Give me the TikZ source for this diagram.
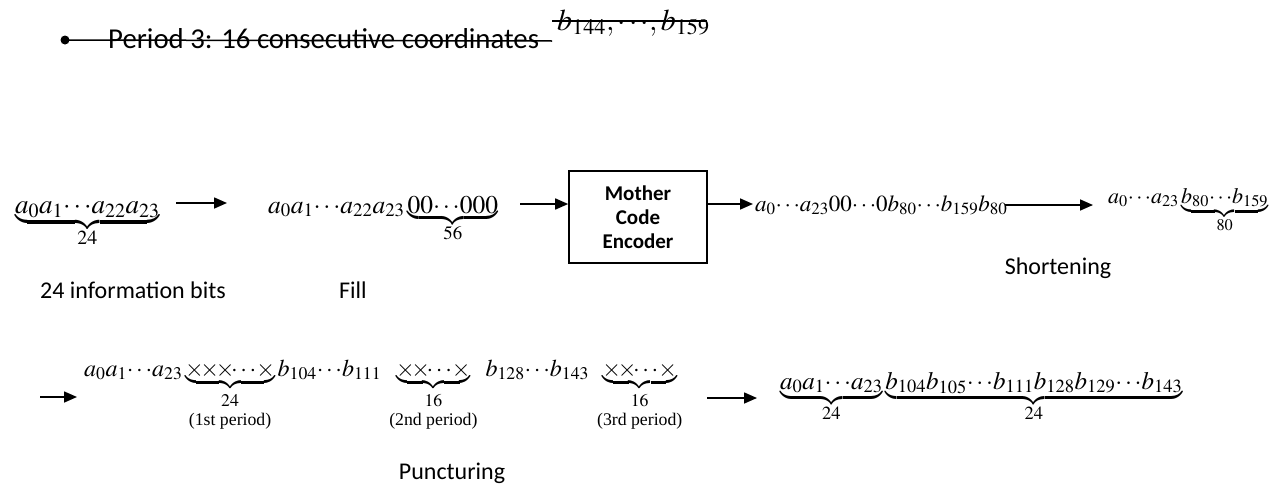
\documentclass[tikz,border=0pt]{standalone}
\usepackage{amsmath}
\usepackage{mathptmx}
\usepackage[no-math]{fontspec}
\setmainfont{Liberation Serif}
\setsansfont{Carlito}
\usetikzlibrary{arrows.meta}
\tikzset{
  arr/.style={line width=1.6pt,-{Triangle[length=13pt,width=11pt]}},
  expr/.style={anchor=base west,inner sep=0pt},
  lab/.style={anchor=base,inner sep=0pt,font=\sffamily\fontsize{24}{28}\selectfont},
  strike/.style={line width=1.5pt},
  encbox/.style={draw,line width=1.6pt,minimum width=138pt,minimum height=92pt,inner sep=0pt,align=center,
    font=\sffamily\bfseries\fontsize{21}{24}\selectfont},
}
\newcommand{\xx}{\mathord{\times}\mkern-2.5mu}
\newcommand{\xl}{\mathord{\times}}
\newcommand{\dd}{{\cdots}}
\newcommand{\perlab}[2]{\substack{\rule{0pt}{16pt}#1\\[4pt]\text{#2}}}
\begin{document}
\begin{tikzpicture}[x=1pt,y=-1pt]
\useasboundingbox (0,0) rectangle (1277,490);
% heading
\node[circle,fill,inner sep=0pt,minimum size=9pt] (bul) at (65,40) {};
\node[expr,font=\sffamily\fontsize{28.8}{32}\selectfont] (ht) at (108,48) {Period 3: 16 consecutive coordinates};
\node[expr,font=\fontsize{30}{34}\selectfont] (hm) at (557,30) {$b_{144},\dd,b_{159}$};
\coordinate (s1) at (552,41);
\coordinate (s2) at (552,21);
\coordinate (s3) at (707,21);
\draw[strike] (bul.center) -- (s1);
\draw[strike] (s2) -- (s3);
% row 1
\node[expr,font=\fontsize{27}{31}\selectfont] (e1) at (15,213) {$\underbrace{a_0a_1\dd a_{22}a_{23}}_{24}$};
\node[expr,font=\fontsize{25.5}{30}\selectfont] (e2) at (268,213) {$a_0a_1\dd a_{22}a_{23}\underbrace{00\dd000}_{56}$};
\node[encbox] (box) at (638,217) {Mother\\Code\\Encoder};
\node[expr,font=\fontsize{23}{27}\selectfont] (e3) at (755,211) {$a_0\dd a_{23}00\dd0b_{80}\dd b_{159}b_{80}$};
\node[expr,font=\fontsize{22}{26}\selectfont] (e4) at (1108,203) {$a_0\dd a_{23}\underbrace{b_{80}\dd b_{159}}_{80}$};
\coordinate (p1) at (176,203);
\coordinate (q1) at (227,203);
\coordinate (p2) at (520,204);
\coordinate (q3) at (753,204);
\coordinate (p4) at (1005,205);
\coordinate (q4) at (1093,205);
\draw[arr] (p1) -- (q1);
\draw[arr] (p2) -- (box.west |- p2);
\draw[arr] (box.east |- q3) -- (q3);
\draw[arr] (p4) -- (q4);
\node[lab] (l1) at (133,298) {24 information bits};
\node[lab] (l2) at (353,298) {Fill};
\node[lab] (l3) at (1058,274) {Shortening};
% row 2
\node[expr,font=\fontsize{24}{28}\selectfont] (e5) at (84,376) {$a_0a_1\dd a_{23}\underbrace{\xx\xx\xx\dd\xl}_{\perlab{24}{(1st period)}}b_{104}\dd b_{111}\;\underbrace{\xx\xx\dd\xl}_{\perlab{16}{(2nd period)}}\;b_{128}\dd b_{143}\;\underbrace{\xx\xx\dd\xl}_{\perlab{16}{(3rd period)}}$};
\node[expr,font=\fontsize{25}{29}\selectfont] (e6) at (780,389) {$\underbrace{a_0a_1\dd a_{23}}_{\rule{0pt}{13pt}24}\underbrace{b_{104}b_{105}\dd b_{111}b_{128}b_{129}\dd b_{143}}_{\rule{0pt}{13pt}24}$};
\coordinate (p5) at (40,397);
\coordinate (q5) at (77,397);
\coordinate (p6) at (707,398);
\coordinate (q6) at (757,398);
\draw[arr] (p5) -- (q5);
\draw[arr] (p6) -- (q6);
\node[lab] (l4) at (452,479) {Puncturing};
\end{tikzpicture}
\end{document}
